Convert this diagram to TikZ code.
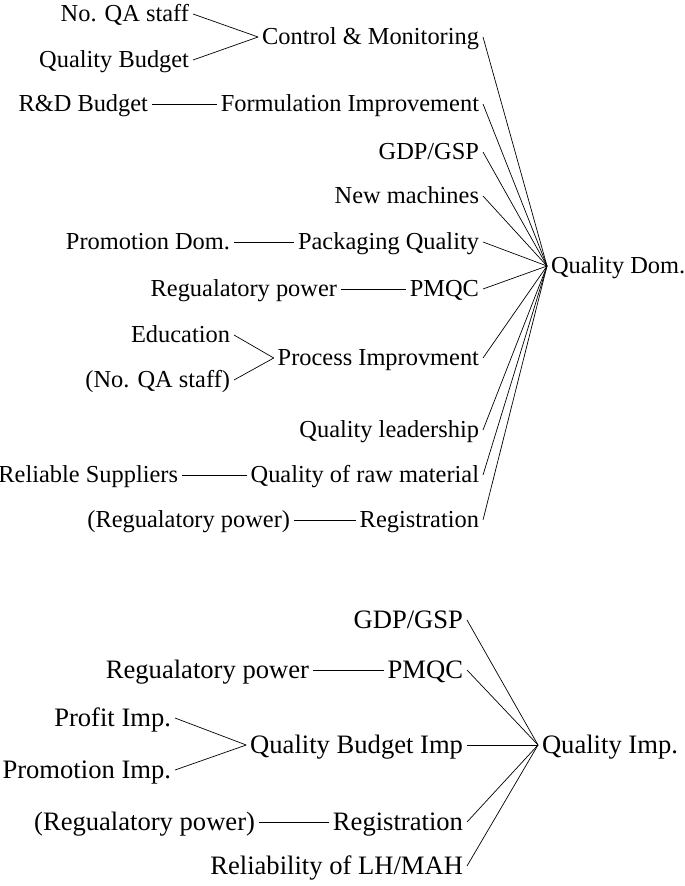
\documentclass[tikz,border=0pt]{standalone}
\usepackage{fontspec}
\setmainfont{Liberation Serif}

\tikzset{
  lbl/.style={inner sep=0pt, outer sep=4pt, font=\fontsize{24.4}{28}\selectfont,
    text height=18pt, text depth=3pt},
  lblb/.style={lbl, font=\fontsize{26.6}{30}\selectfont, text height=19pt, text depth=1.5pt},
  lft/.style={anchor=east},
  rgt/.style={anchor=west},
}

\begin{document}
\begin{tikzpicture}[x=1pt,y=-1pt,line width=0.7pt]
    \useasboundingbox (0,0) rectangle (685,886);

    % Quality Dom. tree
    \node[lbl,rgt] (qdom) at (547,266) {Quality Dom.};
    \coordinate (qdin) at (qdom.west);

    \node[lbl,lft] (cm) at (483,37) {Control \& Monitoring};
    \node[lbl,lft] (qastaff) at (193,14) {No. QA staff};
    \node[lbl,lft] (qbudget) at (193,60) {Quality Budget};
    \draw (qastaff.east) -- (cm.west);
    \draw (qbudget.east) -- (cm.west);

    \node[lbl,lft] (form) at (483,104) {Formulation Improvement};
    \node[lbl,lft] (rdbudget) at (152,104) {R\&D Budget};
    \draw (rdbudget) -- (form);

    \node[lbl,lft] (gdpd) at (483,152) {GDP/GSP};
    \node[lbl,lft] (machines) at (483,196) {New machines};

    \node[lbl,lft] (pack) at (483,242) {Packaging Quality};
    \node[lbl,lft] (promdom) at (234,242) {Promotion Dom.};
    \draw (promdom) -- (pack);

    \node[lbl,lft] (pmqcd) at (483,289) {PMQC};
    \node[lbl,lft] (regpowd) at (341,289) {Regualatory power};
    \draw (regpowd) -- (pmqcd);

    \node[lbl,lft] (process) at (483,358) {Process Improvment};
    \node[lbl,lft] (educ) at (234,335) {Education};
    \node[lbl,lft] (qastaffb) at (234,380) {(No. QA staff)};
    \draw (educ.east) -- (process.west);
    \draw (qastaffb.east) -- (process.west);

    \node[lbl,lft] (lead) at (483,430) {Quality leadership};

    \node[lbl,lft] (raw) at (483,475) {Quality of raw material};
    \node[lbl,lft] (suppl) at (182,475) {Reliable Suppliers};
    \draw (suppl) -- (raw);

    \node[lbl,lft] (regd) at (483,520) {Registration};
    \node[lbl,lft] (regpowdb) at (294,520) {(Regualatory power)};
    \draw (regpowdb) -- (regd);

    \foreach \n in {cm,form,gdpd,machines,pack,pmqcd,process,lead,raw,regd}
      \draw (\n.east) -- (qdin);

    % Quality Imp. tree
    \node[lblb,rgt] (qimp) at (538,745) {Quality Imp.};
    \coordinate (qiin) at (qimp.west);

    \node[lblb,lft] (gdpi) at (467,620) {GDP/GSP};

    \node[lblb,lft] (pmqci) at (467,670) {PMQC};
    \node[lblb,lft] (regpowi) at (313,670) {Regualatory power};
    \draw (regpowi) -- (pmqci);

    \node[lblb,lft] (qbimp) at (467,745) {Quality Budget Imp};
    \node[lblb,lft] (profit) at (175,718) {Profit Imp.};
    \node[lblb,lft] (promimp) at (175,770) {Promotion Imp.};
    \draw (profit.east) -- (qbimp.west);
    \draw (promimp.east) -- (qbimp.west);

    \node[lblb,lft] (regi) at (467,822) {Registration};
    \node[lblb,lft] (regpowib) at (259,822) {(Regualatory power)};
    \draw (regpowib) -- (regi);

    \node[lblb,lft] (reliab) at (467,866) {Reliability of LH/MAH};

    \foreach \n in {gdpi,pmqci,qbimp,regi,reliab}
      \draw (\n.east) -- (qiin);
\end{tikzpicture}
\end{document}
